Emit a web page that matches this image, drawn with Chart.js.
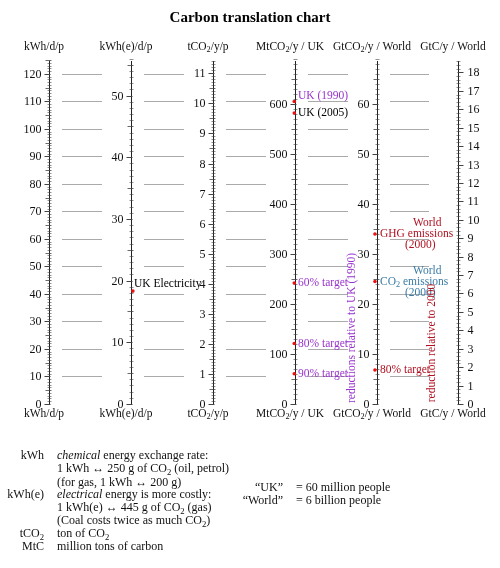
<!DOCTYPE html>
<html><head><meta charset="utf-8">
<script src="https://cdn.jsdelivr.net/npm/chart.js@4"></script>
<style>html,body{margin:0;padding:0;background:#fff}#c{display:block}</style>
</head><body><canvas id="c" width="500" height="568"></canvas>
<script>
// ---- data ----
const axisNames = ['kwh','kwhe','tco2','mt','gt','gtc'];
const axisMax = [124.7, 55.6, 11.41, 686, 68.6, 18.62];
const axisMajor = [10, 10, 1, 100, 10, 1];
const axisMid = [5, 5, 0.5, 50, 5, 0.5];
const axisMinor = [1, 1, 0.1, 10, 1, 0.2];
const axisTitles = [['kWh/d/p'],['kWh(e)/d/p'],['tCO','2','/y/p'],['MtCO','2','/y / UK'],['GtCO','2','/y / World'],['GtC/y / World']];
const gridKwh = [10,20,30,40,50,60,70,80,90,100,110,120];
const markAxis = ['kwhe','mt','mt','mt','mt','mt','gt','gt','gt'];
const markValue = [18.3, 605, 582, 242, 121, 60.5, 34, 24.5, 6.8];
const markLabel = ['UK Electricity','UK (1990)','UK (2005)','60% target','80% target','90% target','GHG emissions','CO₂ emissions','80% target'];
const markColor = ['#000','#9933cc','#000','#9933cc','#9933cc','#9933cc','#b01020','#3a7ca5','#b01020'];

const AX = [49,131,213,295,377,458];
const F = '"Liberation Serif", "DejaVu Serif", serif';

const scales = { x:{type:'linear',axis:'x',position:'bottom',min:0,max:500,display:false} };
axisNames.forEach((n,i)=>{ scales[n]={type:'linear',axis:'y',position:'left',min:0,max:axisMax[i],display:false}; });

const datasets = markAxis.map((a,i)=>({
  type:'scatter', yAxisID:a, xAxisID:'x',
  data:[{x:AX[axisNames.indexOf(a)], y:markValue[i]}],
  pointRadius:1.8, pointBackgroundColor:'#ee1111', pointBorderWidth:0
}));

function richText(ctx, parts, x, y, size, align){
  const segs = parts.map(p=>typeof p==='string'?[p,'n']:p);
  const fontFor = m => (m==='i'?'italic ':'')+(m==='s'?(size*0.72):size)+'px '+F;
  let w=0; segs.forEach(s=>{ctx.font=fontFor(s[1]); w+=ctx.measureText(s[0]).width;});
  let sx = align==='center'? x-w/2 : align==='right'? x-w : x;
  ctx.textAlign='left'; ctx.textBaseline='middle';
  segs.forEach(s=>{ctx.font=fontFor(s[1]); ctx.fillText(s[0], sx, y+(s[1]==='s'?size*0.28:0)); sx+=ctx.measureText(s[0]).width;});
}
function tl(t){ return t.map((s,i)=> i%2? [s,'s'] : [s,'n']); }

const plugin = {
  id:'nomogram',
  beforeDatasetsDraw(chart){
    const ctx = chart.ctx;
    ctx.save();
    const ks = chart.scales.kwh;
    ctx.strokeStyle='#aaaaaa'; ctx.lineWidth=1;
    gridKwh.forEach(v=>{
      const y=Math.round(ks.getPixelForValue(v))+0.5;
      for(let i=0;i<5;i++){ctx.beginPath();ctx.moveTo(AX[i]+13,y);ctx.lineTo(AX[i+1]-29,y);ctx.stroke();}
    });
    axisNames.forEach((n,i)=>{
      const s=chart.scales[n]; const x=AX[i]+0.5; const right = i===5;
      ctx.strokeStyle='#222'; ctx.lineWidth=1;
      ctx.beginPath(); ctx.moveTo(x, chart.chartArea.top); ctx.lineTo(x, s.getPixelForValue(0)+0.5); ctx.stroke();
      const nMin = Math.round(axisMax[i]/axisMinor[i]);
      ctx.strokeStyle='#444';
      for(let k=0;k<=nMin;k++){
        const v=k*axisMinor[i]; const y=Math.round(s.getPixelForValue(v))+0.5;
        const isMaj = Math.abs(v/axisMajor[i]-Math.round(v/axisMajor[i]))<1e-6;
        const isMid = Math.abs(v/axisMid[i]-Math.round(v/axisMid[i]))<1e-6;
        let a=2,b=2;
        if(isMaj){a=5;b=1;ctx.lineWidth=1;} else if(isMid){a=4;b=2;ctx.lineWidth=0.8;} else ctx.lineWidth=0.6;
        if(right){const t=a;a=b;b=t;}
        ctx.beginPath(); ctx.moveTo(x-a,y); ctx.lineTo(x+b,y); ctx.stroke();
        if(isMaj){
          ctx.fillStyle='#111'; ctx.font='12px '+F; ctx.textBaseline='middle';
          const lbl = String(Math.round(v));
          if(right){ctx.textAlign='left'; ctx.fillText(lbl,x+9,y);} else {ctx.textAlign='right'; ctx.fillText(lbl,x-8,y);}
        }
      }
      ctx.fillStyle='#111';
      richText(ctx, tl(axisTitles[i]), AX[i]-5, 47, 11.5, 'center');
      richText(ctx, tl(axisTitles[i]), AX[i]-5, 414, 11.5, 'center');
    });
    ctx.restore();
  },
  afterDatasetsDraw(chart){
    const ctx=chart.ctx; ctx.save();
    markAxis.forEach((a,i)=>{
      const s=chart.scales[a]; const y=s.getPixelForValue(markValue[i]); const x=AX[axisNames.indexOf(a)];
      ctx.fillStyle=markColor[i];
      let dy = (i===0)? -7 : (i===1? -6 : 0);
      let parts=[markLabel[i]];
      if(markLabel[i]==='CO₂ emissions') parts=['CO',['2','s'],' emissions'];
      richText(ctx, parts, x+3, y+dy, 11.5, 'left');
      if(i===6||i===7){ richText(ctx,['World'],x+36,y-11,11.5,'left'); richText(ctx,['(2000)'],x+28,y+11,11.5,'left'); }
    });
    ctx.font='11.5px '+F; ctx.textAlign='center'; ctx.textBaseline='middle';
    ctx.save(); ctx.translate(352,328); ctx.rotate(-Math.PI/2); ctx.fillStyle='#9933cc'; ctx.fillText('reductions relative to UK (1990)',0,0); ctx.restore();
    ctx.save(); ctx.translate(432,343); ctx.rotate(-Math.PI/2); ctx.fillStyle='#b01020'; ctx.fillText('reduction relative to 2000',0,0); ctx.restore();
    ctx.fillStyle='#000'; ctx.font='bold 15px '+F; ctx.textAlign='center'; ctx.textBaseline='middle';
    ctx.fillText('Carbon translation chart',250,18);
    ctx.fillStyle='#111';
    const L=44, R=57, S=12;
    richText(ctx,['kWh'],L,456,S,'right');
    richText(ctx,[['chemical','i'],' energy exchange rate:'],R,456,S,'left');
    richText(ctx,['1 kWh ↔ 250 g of CO',['2','s'],' (oil, petrol)'],R,469,S,'left');
    richText(ctx,['(for gas, 1 kWh ↔ 200 g)'],R,483,S,'left');
    richText(ctx,['kWh(e)'],L,495,S,'right');
    richText(ctx,[['electrical','i'],' energy is more costly:'],R,495,S,'left');
    richText(ctx,['1 kWh(e) ↔ 445 g of CO',['2','s'],' (gas)'],R,508,S,'left');
    richText(ctx,['(Coal costs twice as much CO',['2','s'],')'],R,521,S,'left');
    richText(ctx,['tCO',['2','s']],L,534,S,'right');
    richText(ctx,['ton of CO',['2','s']],R,534,S,'left');
    richText(ctx,['MtC'],L,547,S,'right');
    richText(ctx,['million tons of carbon'],R,547,S,'left');
    richText(ctx,['“UK”'],283,488,S,'right');
    richText(ctx,['= 60 million people'],296,488,S,'left');
    richText(ctx,['“World”'],283,501,S,'right');
    richText(ctx,['= 6 billion people'],296,501,S,'left');
    ctx.restore();
  }
};

new Chart(document.getElementById('c'),{
  type:'scatter',
  data:{datasets},
  options:{
    responsive:false, animation:false, events:[],
    layout:{padding:{top:61,bottom:164,left:0,right:0}},
    plugins:{legend:{display:false},tooltip:{enabled:false}},
    scales
  },
  plugins:[plugin]
});
</script></body></html>
